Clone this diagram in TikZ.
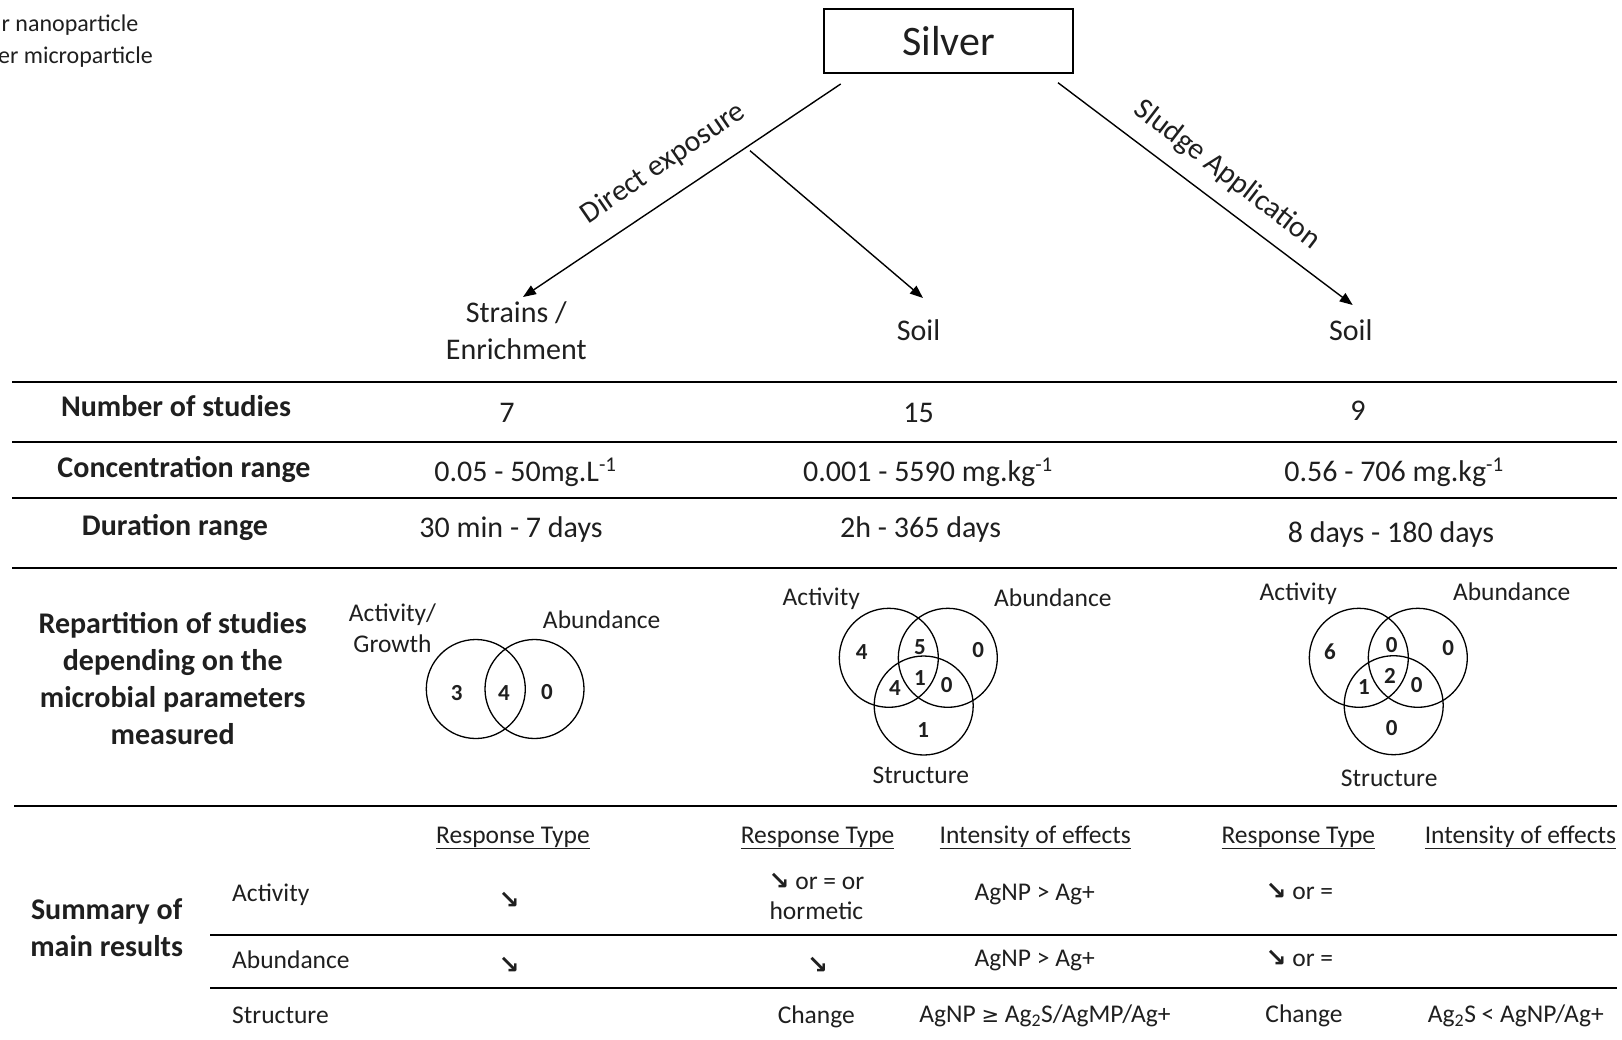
\documentclass[tikz,border=0pt]{standalone}
\usepackage{fontspec}
\setmainfont{Carlito}
\newfontfamily\symfont{DejaVu Sans}
\usetikzlibrary{arrows.meta}
\newcommand{\fsz}[2]{\fontsize{#1}{#2}\selectfont}
\newcommand{\ulin}[1]{\setbox0=\hbox{#1}\rlap{\vrule height -4.5pt depth 6pt width \wd0}\box0}
\newcommand{\dnar}{{\symfont\bfseries\fontsize{25}{28}\selectfont ↘}}
\newcommand{\mygeq}{{\symfont\fontsize{21}{24}\selectfont ≥}}
\begin{document}
\begin{tikzpicture}[x=1pt,y=-1pt,
  every node/.style={inner sep=0pt, text=black!88},
  txt/.style={font=\fsz{25.5}{30}},
  lbl/.style={font=\fsz{30}{37}},
  hdr/.style={font=\bfseries\fsz{30}{37}, align=center},
  val/.style={font=\fsz{30}{37}},
  num/.style={font=\bfseries\fsz{23}{28}},
  legend/.style={font=\fsz{24}{30}},
  venn/.style={draw, line width=1.3pt, circle, minimum size=99pt},
  hrule/.style={line width=1.8pt},
  arr/.style={line width=1.4pt, -{Triangle[length=13pt,width=10pt]}},
]
\fill[white] (0,0) rectangle (1622,1039);
\useasboundingbox (0,0) rectangle (1622,1039);

% legend (clipped at the left edge)
\node[legend, anchor=base east] (leg1) at (138.5,31.5) {r nanoparticle};
\node[legend, anchor=base east] (leg2) at (153,63.5) {er microparticle};

% Silver box
\node[draw, line width=1.6pt, minimum width=249pt, minimum height=64pt, font=\fsz{42}{48}] (silver) at (948.5,41) {Silver};

% targets
\node[lbl, align=center] (strains) at (516.3,331) {Strains /\\Enrichment};
\node[lbl, anchor=base] (soilA) at (918.5,340) {Soil};
\node[lbl, anchor=base] (soilB) at (1350.8,340) {Soil};

% arrows
\coordinate (deA) at (840.7,84);
\coordinate (deB) at (750,150.7);
\coordinate (slA) at (1058,82.7);
\coordinate (tipS) at (523,297);
\coordinate (tipM) at (923,298);
\coordinate (tipR) at (1352.7,305);
\draw[arr] (deA) -- (tipS);
\draw[arr] (deB) -- (tipM);
\draw[arr] (slA) -- (tipR);
\node[lbl, rotate=34.5] (direct) at (663.3,163.3) {Direct exposure};
\node[lbl, rotate=-37.5] (sludge) at (1227,175) {Sludge Application};

% horizontal rules
\draw[hrule] (12,381.7) -- (1617,381.7);
\draw[hrule] (12,441.7) -- (1617,441.7);
\draw[hrule] (12,497.6) -- (1617,497.6);
\draw[hrule] (12,568) -- (1617,568);
\draw[hrule] (14,806) -- (1617,806);
\draw[hrule] (210,935) -- (1617,935);
\draw[hrule] (210,988) -- (1617,988);

% row headers
\node[hdr, anchor=base] (hNum) at (176,416) {Number of studies};
\node[hdr, anchor=base] (hConc) at (184,477) {Concentration range};
\node[hdr, anchor=base] (hDur) at (175,535) {Duration range};
\node[hdr] (hRep) at (172.7,678.4) {Repartition of studies\\depending on the\\microbial parameters\\measured};
\node[hdr] (hSum) at (106.7,927.5) {Summary of\\main results};

% values
\node[val, anchor=base] (n1) at (507,422) {7};
\node[val, anchor=base] (n2) at (918.5,422) {15};
\node[val, anchor=base] (n3) at (1358,420) {9};
\node[val, anchor=base] (c1) at (525.5,481) {0.05 - 50mg.L\textsuperscript{-1}};
\node[val, anchor=base] (c2) at (928,481) {0.001 - 5590 mg.kg\textsuperscript{-1}};
\node[val, anchor=base] (c3) at (1394,481) {0.56 - 706 mg.kg\textsuperscript{-1}};
\node[val, anchor=base] (d1) at (511,537) {30 min - 7 days};
\node[val, anchor=base] (d2) at (920.6,537) {2h - 365 days};
\node[val, anchor=base] (d3) at (1391,542) {8 days - 180 days};

% Venn 1
\node[venn] (v1a) at (475.8,689) {};
\node[venn] (v1b) at (534.5,689) {};
\node[txt, align=center, font=\fsz{25.5}{31}] (v1la) at (392.5,628.2) {Activity/\\Growth};
\node[txt, anchor=base] (v1lb) at (601.7,628.3) {Abundance};
\node[num] (v1n1) at (456.7,693.3) {3};
\node[num] (v1n2) at (504,693.3) {4};
\node[num] (v1n3) at (547,691.7) {0};

% Venn 2
\node[venn] (v2a) at (888.8,657.8) {};
\node[venn] (v2b) at (947.8,657.8) {};
\node[venn] (v2c) at (923.7,705.5) {};
\node[txt, anchor=base] (v2la) at (821.3,605) {Activity};
\node[txt, anchor=base] (v2lb) at (1052.8,606.7) {Abundance};
\node[txt, anchor=base] (v2lc) at (920.8,783.3) {Structure};
\node[num] (v2n1) at (861.7,651.7) {4};
\node[num] (v2n2) at (920,646.7) {5};
\node[num] (v2n3) at (978.3,650) {0};
\node[num] (v2n4) at (895,688.3) {4};
\node[num] (v2n5) at (920,678.3) {1};
\node[num] (v2n6) at (946.7,685) {0};
\node[num] (v2n7) at (923.3,730) {1};

% Venn 3
\node[venn] (v3a) at (1358.8,657.8) {};
\node[venn] (v3b) at (1417.8,657.8) {};
\node[venn] (v3c) at (1393.7,705.2) {};
\node[txt, anchor=base] (v3la) at (1298.3,600.7) {Activity};
\node[txt, anchor=base] (v3lb) at (1511.7,600.7) {Abundance};
\node[txt, anchor=base] (v3lc) at (1389.2,786.7) {Structure};
\node[num] (v3n1) at (1330,651.7) {6};
\node[num] (v3n2) at (1391.7,645) {0};
\node[num] (v3n3) at (1448.3,648.3) {0};
\node[num] (v3n4) at (1364,686.7) {1};
\node[num] (v3n5) at (1390,676) {2};
\node[num] (v3n6) at (1416.7,685) {0};
\node[num] (v3n7) at (1391.7,728.3) {0};

% summary table headers
\node[txt, anchor=base] (sh1) at (513,843.3) {\ulin{Response Type}};
\node[txt, anchor=base] (sh2) at (817.6,843.3) {\ulin{Response Type}};
\node[txt, anchor=base] (sh3) at (1035.3,843.3) {\ulin{Intensity of effects}};
\node[txt, anchor=base] (sh4) at (1298.3,843.3) {\ulin{Response Type}};
\node[txt, anchor=base] (sh5) at (1520.4,843.3) {\ulin{Intensity of effects}};

% summary rows
\node[txt, anchor=base west] (rAct) at (232,901.7) {Activity};
\node[txt, anchor=base west] (rAbu) at (232,968.3) {Abundance};
\node[txt, anchor=base west] (rStr) at (232,1023.3) {Structure};

\node[txt] (a1) at (509,900) {\dnar};
\node[txt, align=center] (a2) at (816.4,896) {\dnar{} or = or\\hormetic};
\node[txt, anchor=base] (a3) at (1034.7,900) {AgNP > Ag+};
\node[txt, anchor=base] (a4) at (1299.4,899.3) {\dnar{} or =};

\node[txt] (b1) at (509,965) {\dnar};
\node[txt] (b2) at (817.5,965) {\dnar};
\node[txt, anchor=base] (b3) at (1034.7,966.7) {AgNP > Ag+};
\node[txt, anchor=base] (b4) at (1299.4,966.7) {\dnar{} or =};

\node[txt, anchor=base] (s2) at (816.3,1023) {Change};
\node[txt, anchor=base] (s3) at (1045,1022.7) {AgNP \mygeq{} Ag\textsubscript{2}S/AgMP/Ag+};
\node[txt, anchor=base] (s4) at (1304,1022.7) {Change};
\node[txt, anchor=base] (s5) at (1515.8,1022.7) {Ag\textsubscript{2}S < AgNP/Ag+};
\end{tikzpicture}
\end{document}
